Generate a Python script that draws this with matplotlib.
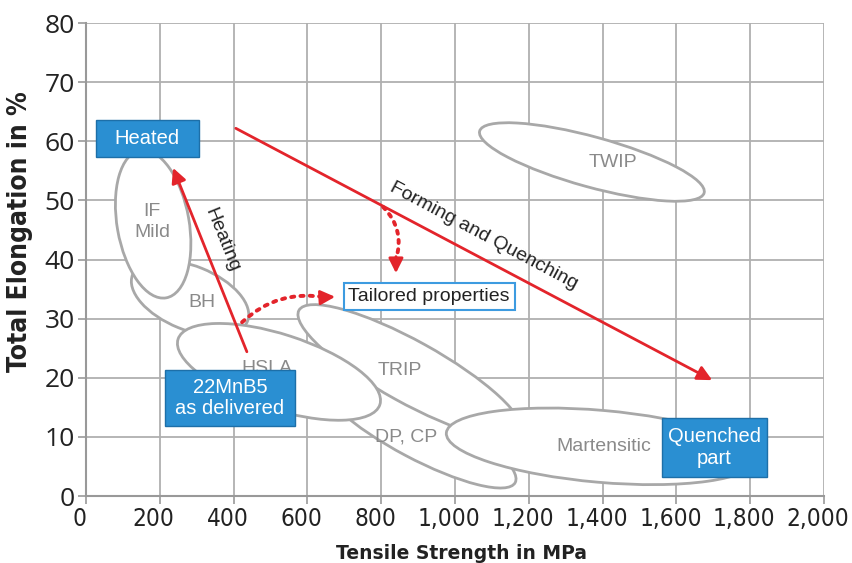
import matplotlib
matplotlib.use("Agg")
import matplotlib.pyplot as plt
from matplotlib.patches import Ellipse, Rectangle
from matplotlib.transforms import Affine2D, ScaledTranslation

# axis ranges / ticks
x_ticks = [0, 200, 400, 600, 800, 1000, 1200, 1400, 1600, 1800, 2000]
x_tick_labels = ["0", "200", "400", "600", "800", "1,000", "1,200", "1,400", "1,600", "1,800", "2,000"]
y_ticks = [0, 10, 20, 30, 40, 50, 60, 70, 80]

# steel grade regions (centre in MPa / %, axes in MPa-equivalent units, angle in deg)
grades = ["DP, CP", "TRIP", "BH", "HSLA", "IF\nMild", "Martensitic", "TWIP"]
grade_cx = [900, 878, 282, 523, 182, 1395, 1371]
grade_cy = [11.0, 21.0, 33.5, 21.0, 46.0, 8.4, 56.5]
grade_w = [596, 688, 336, 575, 406, 840, 631]
grade_h = [149, 168, 173, 203, 195, 195, 136]
grade_ang = [-28, -29, -22, -18, 100, -5, -15.4]
label_x = [867, 851, 314, 491, 179, 1402, 1429]
label_y = [10.0, 21.3, 32.8, 21.6, 46.3, 8.3, 56.5]

# process boxes (x0, x1, y0, y1 in data units)
box_text = ["Heated", "22MnB5\nas delivered", "Quenched\npart"]
box_x0 = [27, 214, 1561]
box_x1 = [306, 566, 1846]
box_y0 = [57.3, 11.8, 3.2]
box_y1 = [63.6, 21.3, 13.2]

blue = "#2a8fd2"
red = "#e3242b"
grey_line = "#a8a8a8"
narrow = dict(family="DejaVu Sans", stretch="condensed")

fig = plt.figure(figsize=(8.53, 5.63), dpi=100)
ax = fig.add_axes([0.1008, 0.119, 0.8652, 0.840])
ax.set_xlim(0, 2000)
ax.set_ylim(0, 80)

# ratio so that ellipses keep their shape on screen
ax_w = 0.8652 * 853
ax_h = 0.840 * 563
K = (2000 / ax_w) / (80 / ax_h)
ell_tr = Affine2D().scale(1, 1 / K) + ax.transData

ax.set_xticks(x_ticks)
ax.set_xticklabels(x_tick_labels, fontsize=17.5, color="#222222", **narrow)
ax.set_yticks(y_ticks)
ax.set_yticklabels([str(v) for v in y_ticks], family="Open Sans", fontsize=19, color="#222222")
ax.tick_params(axis="both", direction="out", length=6, width=1.2, color="#999999", pad=2)
# x labels sit a little left of their ticks in the original
shift = ScaledTranslation(-6 / 100, 0, fig.dpi_scale_trans)
for lab in ax.get_xticklabels():
    lab.set_transform(lab.get_transform() + shift)
ax.grid(True, color="#b0b0b0", linewidth=1.3)
ax.set_axisbelow(True)
for s in ["top", "right"]:
    ax.spines[s].set_visible(False)
for s in ["left", "bottom"]:
    ax.spines[s].set_color("#999999")
    ax.spines[s].set_linewidth(1.5)

for i, g in enumerate(grades):
    e = Ellipse((grade_cx[i], grade_cy[i] * K), grade_w[i], grade_h[i], angle=grade_ang[i],
                transform=ell_tr, facecolor="white", edgecolor=grey_line, linewidth=2, zorder=2 + i * 0.1)
    ax.add_patch(e)
    ax.text(label_x[i], label_y[i], g, ha="center", va="center", fontsize=14,
            family="Liberation Sans", color="#8a8a8a", zorder=2 + i * 0.1 + 0.05, linespacing=1.3)

for i, t in enumerate(box_text):
    r = Rectangle((box_x0[i], box_y0[i]), box_x1[i] - box_x0[i], box_y1[i] - box_y0[i],
                  facecolor=blue, edgecolor="#1d6fa8", linewidth=1, zorder=5)
    ax.add_patch(r)
    ax.text((box_x0[i] + box_x1[i]) / 2, (box_y0[i] + box_y1[i]) / 2, t, ha="center", va="center",
            fontsize=14.5, family="Liberation Sans", color="white", zorder=6, linespacing=1.15)

ax.text(930, 33.7, "Tailored properties", ha="center", va="center", fontsize=14,
        family="Liberation Sans", color="#222222", zorder=6,
        bbox=dict(boxstyle="square,pad=0.25", facecolor="white", edgecolor="#3d9be0", linewidth=1.5))

# process arrows
solid = dict(arrowstyle="-|>", color=red, lw=2, mutation_scale=22, shrinkA=0, shrinkB=0)
ax.annotate("", xy=(236, 55.5), xytext=(436, 24.4), zorder=7, arrowprops=solid)
ax.annotate("", xy=(1697, 19.6), xytext=(406, 62.2), zorder=7, arrowprops=solid)

# dotted curves to the tailored properties, with solid heads
dots = dict(arrowstyle="-", color=red, lw=2.8, ls=(0, (0.8, 1.6)), capstyle="round", shrinkA=0, shrinkB=0)
ax.annotate("", xy=(650, 33.6), xytext=(423, 29.4), zorder=7,
            arrowprops=dict(dots, connectionstyle="arc3,rad=-0.25"))
ax.annotate("", xy=(675, 33.7), xytext=(645, 33.6), zorder=7, arrowprops=solid)
ax.annotate("", xy=(840, 40.0), xytext=(805, 48.9), zorder=7,
            arrowprops=dict(dots, connectionstyle="arc3,rad=-0.3"))
ax.annotate("", xy=(840, 37.7), xytext=(840, 40.5), zorder=7, arrowprops=solid)

ax.text(369, 43.3, "Heating", rotation=-68, rotation_mode="anchor", ha="center", va="center",
        fontsize=14, family="Liberation Sans", color="#222222", zorder=7)
ax.text(1078, 44.0, "Forming and Quenching", rotation=-28, rotation_mode="anchor", ha="center",
        va="center", fontsize=14, family="Liberation Sans", color="#222222", zorder=7)

fig.text(0.023, 0.588, "Total Elongation in %", rotation=90, ha="center", va="center",
         fontsize=19, fontweight="bold", color="#222222", **narrow)
fig.text(0.541, 0.007, "Tensile Strength in MPa", ha="center", va="baseline",
         fontsize=13.5, fontweight="bold", family="DejaVu Sans", color="#222222")

fig.savefig("out.png", dpi=100)
